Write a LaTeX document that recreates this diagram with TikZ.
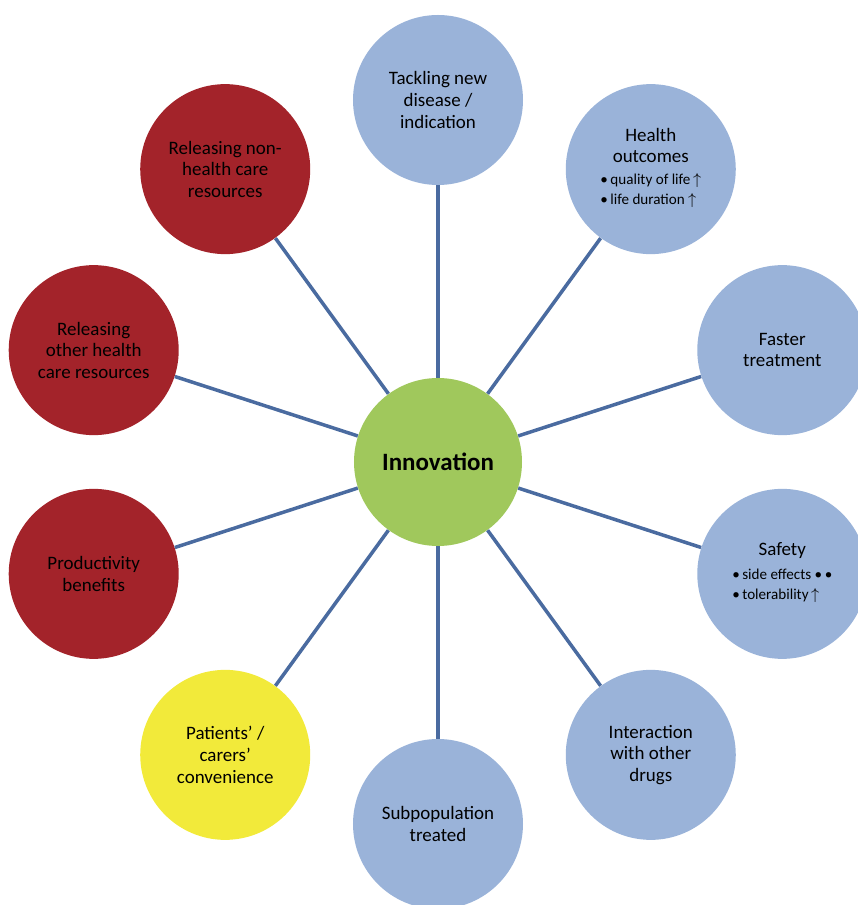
\documentclass[tikz,border=0pt]{standalone}
\usepackage{fontspec}
\setmainfont{Carlito}
\usetikzlibrary{positioning}
\definecolor{hubgreen}{HTML}{A0C85C}
\definecolor{petalblue}{HTML}{9AB3D9}
\definecolor{petalred}{HTML}{A3232A}
\definecolor{petalyellow}{HTML}{F2EA3A}
\definecolor{spokeblue}{HTML}{4A6BA0}
\tikzset{
  hub/.style={circle,fill=hubgreen,minimum size=3.36cm,inner sep=0pt,
    font=\fontsize{14.2}{16}\selectfont\bfseries},
  petal/.style={circle,minimum size=3.4cm,inner sep=0pt,align=center,
    font=\fontsize{10.8}{12.3}\selectfont},
  spoke/.style={draw=spokeblue,line width=2pt},
}
\newcommand{\smallpts}[1]{{\fontsize{8.6}{11.4}\selectfont
  \begin{tabular}{@{}l@{}}#1\end{tabular}}}

\begin{document}
\begin{tikzpicture}
\useasboundingbox (-8.76,-8.86) rectangle (8.40,9.24);
\clip (-8.76,-8.86) rectangle (8.40,9.24);
\node[hub] (inno) at (0,0) {Innovation};
\node[petal,fill=petalblue] (tackle) at (90:7.24) {Tackling new\\disease /\\indication};
\node[petal,fill=petalblue] (health) at (54:7.24) {Health\\outcomes\\[3pt]
  \smallpts{\textbullet\,quality of life\,$\uparrow$\\\textbullet\,life duration $\uparrow$}};
\node[petal,fill=petalblue] (faster) at (18:7.24) {Faster\\treatment};
\node[petal,fill=petalblue] (safety) at (-18:7.24) {Safety\\[3pt]
  \smallpts{\textbullet\,side effects \textbullet\,\textbullet\\\textbullet\,tolerability\,$\uparrow$}};
\node[petal,fill=petalblue] (interact) at (-54:7.24) {Interaction\\with other\\drugs};
\node[petal,fill=petalblue] (subpop) at (-90:7.24) {Subpopulation\\treated};
\node[petal,fill=petalyellow] (patients) at (-126:7.24) {Patients' /\\carers'\\convenience};
\node[petal,fill=petalred] (product) at (-162:7.24) {Productivity\\benefits};
\node[petal,fill=petalred] (otherhc) at (162:7.24) {Releasing\\other health\\care resources};
\node[petal,fill=petalred] (nonhc) at (126:7.24) {Releasing non-\\health care\\resources};
% spokes
\draw[spoke] (inno) -- (tackle);
\draw[spoke] (inno) -- (health);
\draw[spoke] (inno) -- (faster);
\draw[spoke] (inno) -- (safety);
\draw[spoke] (inno) -- (interact);
\draw[spoke] (inno) -- (subpop);
\draw[spoke] (inno) -- (patients);
\draw[spoke] (inno) -- (product);
\draw[spoke] (inno) -- (otherhc);
\draw[spoke] (inno) -- (nonhc);
\end{tikzpicture}
\end{document}
